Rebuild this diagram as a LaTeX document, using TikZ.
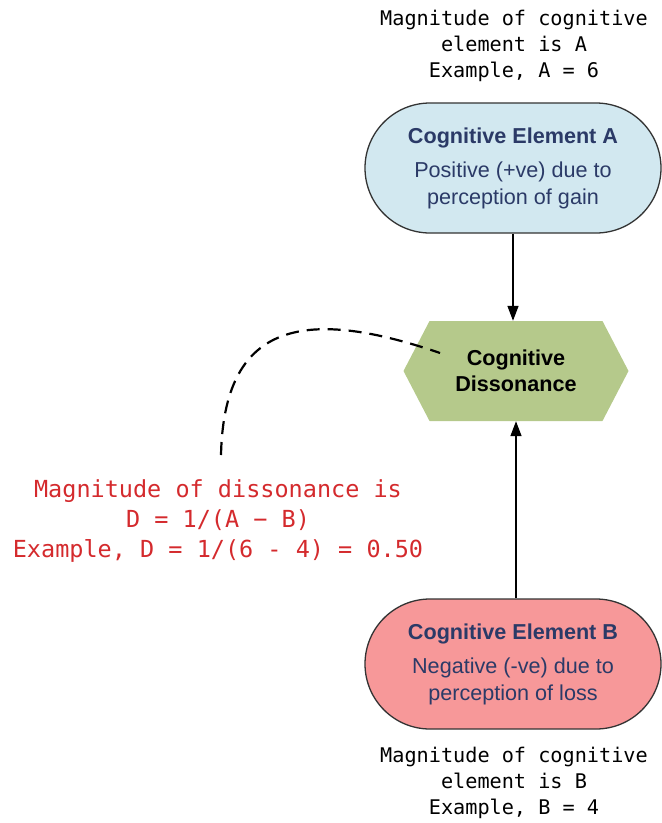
\documentclass[tikz,border=0pt]{standalone}
\usepackage{fontspec}
\setmainfont{Liberation Sans}
\newfontfamily\monofont{DejaVu Sans Mono}
\usetikzlibrary{shapes.misc,shapes.symbols,arrows.meta}
\definecolor{blueFill}{HTML}{D2E8F0}
\definecolor{pinkFill}{HTML}{F79899}
\definecolor{hexFill}{HTML}{B5C98B}
\definecolor{navyText}{HTML}{2B3A67}
\definecolor{redText}{HTML}{D42A2D}
\definecolor{borderGray}{HTML}{333333}
\tikzset{
  element/.style={rounded rectangle, draw=borderGray, line width=1.3pt,
    minimum width=296pt, minimum height=130pt, inner sep=0pt, align=center,
    text=navyText, font=\fontsize{21.6}{27}\selectfont},
  hexbox/.style={signal, signal to=west and east, signal pointer angle=125,
    fill=hexFill, draw=none, minimum width=225pt, minimum height=100pt,
    inner sep=0pt, align=center, font=\fontsize{21.6}{26}\selectfont\bfseries},
  monotext/.style={align=center, inner sep=0pt, font=\monofont\fontsize{20.2}{26}\selectfont},
  redtext/.style={align=center, inner sep=0pt, text=redText, font=\monofont\fontsize{23.5}{30}\selectfont},
  arrowline/.style={line width=1.5pt, -{Triangle[length=15pt,width=11pt]}},
  dashline/.style={line width=2.2pt, dash pattern=on 13pt off 8pt}
}
\begin{document}
\begin{tikzpicture}[x=1pt,y=-1pt]
\useasboundingbox (0,0) rectangle (662,823);
\node[monotext] (topnote) at (514,46) {Magnitude of cognitive\\element is A\\Example, A = 6};
\node[element, fill=blueFill] (elA) at (513,168) {\textbf{Cognitive Element A}\\[7pt]Positive (+ve) due to\\perception of gain};
\node[hexbox] (diss) at (516,371) {Cognitive\\Dissonance};
\node[element, fill=pinkFill] (elB) at (513,664) {\textbf{Cognitive Element B}\\[7pt]Negative (-ve) due to\\perception of loss};
\node[monotext] (botnote) at (514,783) {Magnitude of cognitive\\element is B\\Example, B = 4};
\node[redtext] (formula) at (218,521) {Magnitude of dissonance is\\D = 1/(A − B)\\Example, D = 1/(6 - 4) = 0.50};
\draw[arrowline] (elA.south) -- (elA.south |- diss.north);
\draw[arrowline] (elB.north -| diss.south) -- (diss.south);
\coordinate (dashstart) at (221,455);
\coordinate (dashend) at (440,353);
\draw[dashline] (dashstart) .. controls (224,325) and (300,305) .. (dashend);
\end{tikzpicture}
\end{document}
